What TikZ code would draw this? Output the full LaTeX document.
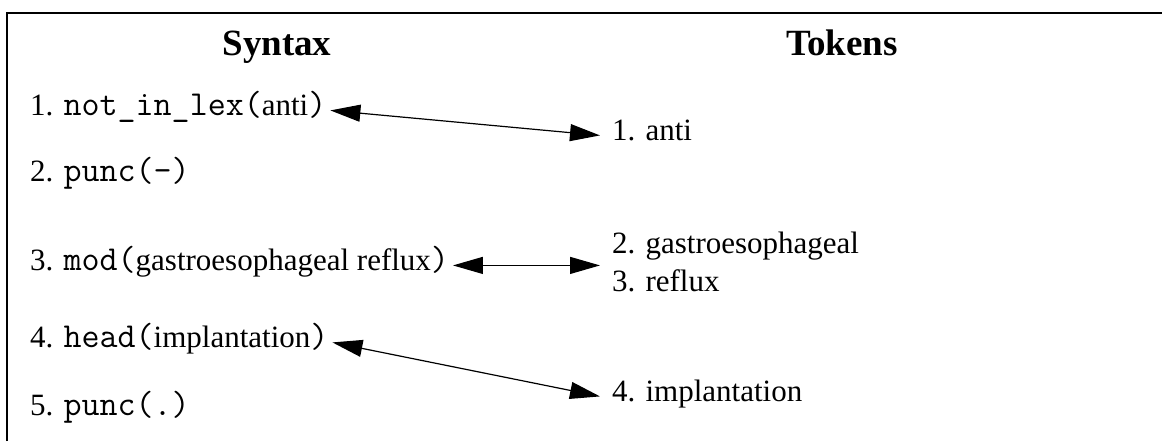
\documentclass[tikz,border=0pt]{standalone}
\usepackage{fontspec}
\setmainfont{Liberation Serif}
\usetikzlibrary{arrows.meta,positioning}
\newcommand{\cd}[1]{{\fontsize{17.5}{19}\selectfont\ttfamily #1}}
\tikzstyle{head} = [font=\fontsize{18.5}{22}\selectfont\bfseries, inner sep=0pt,
    anchor=base]
\tikzstyle{syn} = [font=\fontsize{15.5}{19}\selectfont, inner sep=0pt,
    outer sep=2pt, anchor=base west]
\tikzstyle{tok} = [font=\fontsize{15.5}{19}\selectfont, inner sep=0pt,
    outer sep=6pt, anchor=base west, align=left]
\tikzstyle{link} = [{Triangle[length=15pt,width=8.5pt]}-{Triangle[length=15pt,width=8.5pt]},
    line width=0.6pt]

\begin{document}
\begin{tikzpicture}[x=0.5pt, y=-0.5pt]
  \useasboundingbox (0,0) rectangle (1162,441);
  \draw [line width=1pt] (7,441) -- (7,12.5) -- (1162,12.5);
  \node [head] (syntax) at (277,55) {Syntax};
  \node [head] (tokens) at (842,55) {Tokens};
  \node [syn] (s1) at (26,115) {1. \cd{not\_in\_lex(}anti\cd{)}};
  \node [syn] (s2) at (26,181) {2. \cd{punc(-)}};
  \node [syn] (s3) at (26,270) {3. \cd{mod(}gastroesophageal reflux\cd{)}};
  \node [syn] (s4) at (26,347) {4. \cd{head(}implantation\cd{)}};
  \node [syn] (s5) at (26,415) {5. \cd{punc(.)}};
  \node [tok] (t1) at (600,140) {1. anti};
  \node [tok, anchor=west] (t23) at (600,262) {2. gastroesophageal\\3. reflux};
  \node [tok] (t4) at (600,401) {4. implantation};
  \draw [link] (s1.mid east) -- (t1.mid west);
  \draw [link] (s3.mid east) -- (s3.mid east -| t23.west);
  \draw [link] (s4.mid east) -- (t4.mid west);
\end{tikzpicture}
\end{document}
